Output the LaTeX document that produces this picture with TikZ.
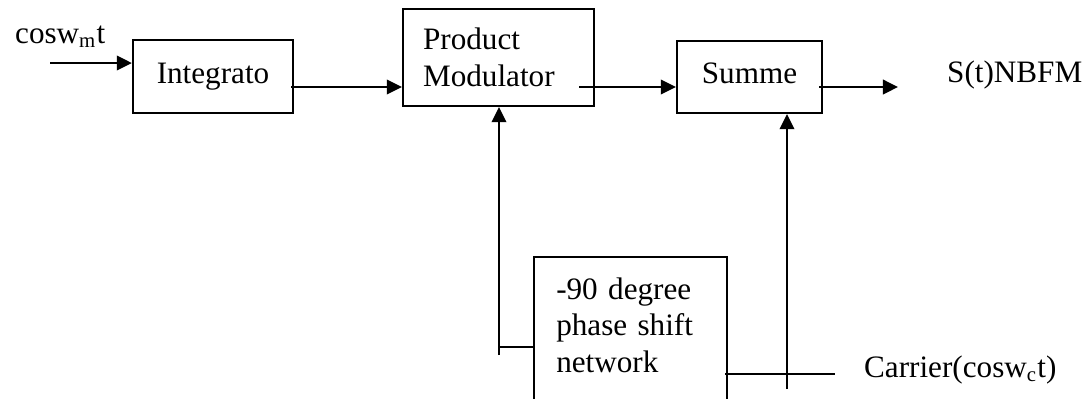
\documentclass[tikz,border=0pt]{standalone}
\usepackage{fontspec}
\setmainfont{Liberation Serif}
\usetikzlibrary{arrows.meta, calc}

\begin{document}
\begin{tikzpicture}[
                    x=0.385pt, y=-0.385pt,
                    every node/.style={font=\fontsize{12}{14}\selectfont},
                    blk/.style={draw, line width=0.9pt, inner sep=0pt},
                    oneline/.style={text height=7.9pt, text depth=2.6pt},
                    sig/.style={line width=0.8pt, -{Triangle[length=5.8pt,width=5.6pt]}},
                    wire/.style={line width=0.8pt}
                ]
                    \useasboundingbox (0,0) rectangle (1082,398);
                    \clip (0,0) rectangle (1082,398);
                    % blocks
                    \node[blk, oneline, minimum width=61.6pt, minimum height=28.1pt] (int) at (213,76.5) {Integrato};
                    \node[blk, align=left, text width=58.1pt, inner xsep=7.7pt, minimum height=37.3pt] (pm) at (498.5,57.5) {Product\\Modulator};
                    \node[blk, oneline, minimum width=55.8pt, minimum height=27.7pt] (sum) at (749.5,77) {Summe};
                    \node[blk, anchor=north west, align=left, text width=57.3pt, inner xsep=8.5pt, inner ysep=8pt, text depth=48pt] (ph) at (533,256) {-90 degree\\phase shift\\network};
                    % labels
                    \node[anchor=base west] (lin) at (6,43) {cosw\textsubscript{m}t};
                    \node[anchor=base west] (lout) at (938,82) {S(t)NBFM};
                    \node[anchor=base west] (lcar) at (855,377) {Carrier(cosw\textsubscript{c}t)};
                    % signal path
                    \coordinate (row) at (0,87);
                    \coordinate (src) at (50,63);
                    \coordinate (dst) at (898,87);
                    \draw[sig] (src) -- (src -| int.west);
                    \draw[sig] ($(int.east |- row)+(-3,0)$) -- (pm.west |- row);
                    \draw[sig] ($(pm.east |- row)+(-16,0)$) -- (sum.west |- row);
                    \draw[sig] ($(sum.east |- row)+(-4,0)$) -- (dst);
                    % phase shift feed
                    \coordinate (tap) at (499,347);
                    \draw[wire] (ph.west |- tap) -- (tap);
                    \draw[sig] ($(tap)+(0,8)$) -- (tap |- pm.south);
                    % carrier feed
                    \coordinate (cend) at (835,374);
                    \coordinate (cin) at (787,389);
                    \draw[wire] ($(ph.east |- cend)+(-3,0)$) -- (cend);
                    \draw[sig] (cin) -- (cin |- sum.south);
                \end{tikzpicture}
\end{document}
